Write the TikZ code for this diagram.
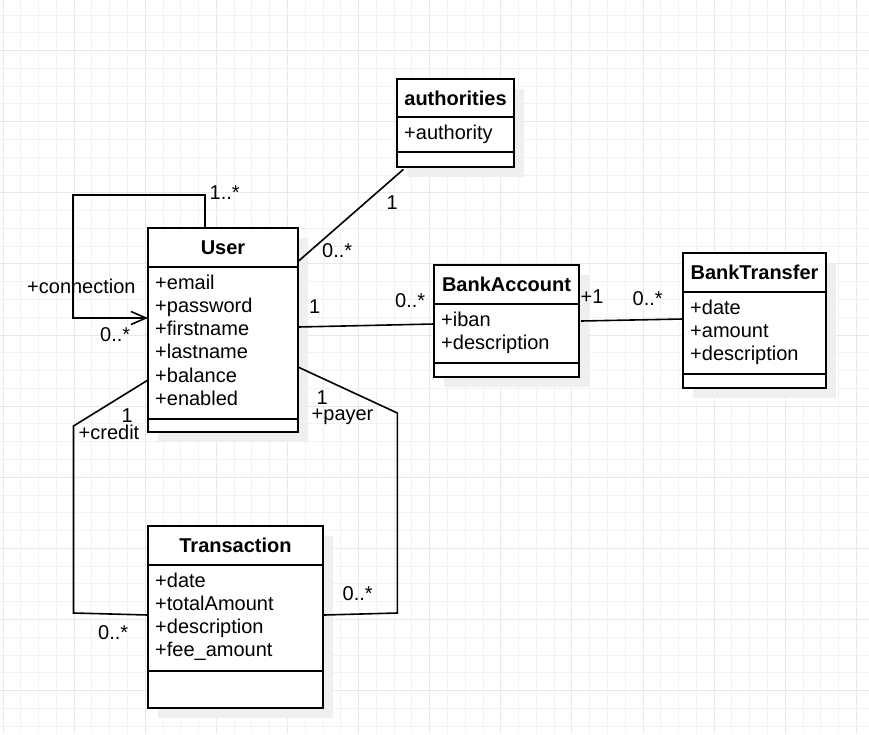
\documentclass[tikz,border=0pt]{standalone}
\usepackage{fontspec}
\setmainfont{Liberation Sans}
\usetikzlibrary{arrows.meta,calc}
\definecolor{gridminor}{HTML}{F2F2F2}
\definecolor{gridmajor}{HTML}{E8E8E8}
\definecolor{shadowc}{HTML}{EFEFEF}
\begin{document}
\begin{tikzpicture}[x=1pt,y=-1pt,
  classbox/.style={draw=black, line width=1.6pt, fill=white, rectangle, inner sep=0pt, outer sep=0pt, anchor=north west},
  ctitle/.style={font=\fontsize{20}{23}\selectfont\bfseries, anchor=base, inner sep=0pt},
  attr/.style={font=\fontsize{20}{23}\selectfont, anchor=base west, inner sep=0pt},
  lbl/.style={font=\fontsize{20}{23}\selectfont, anchor=base west, inner sep=0pt},
  assoc/.style={draw=black, line width=1.6pt},
  sepline/.style={draw=black, line width=1.6pt},
  shadowbox/.style={fill=shadowc},
  openarrow/.style={-{Straight Barb[length=15pt,width=13pt,line width=1.6pt]}},
]
\useasboundingbox (0,0) rectangle (869,734);
\fill[white] (0,0) rectangle (869,734);
% grid
\foreach \i in {0,...,48} {
  \pgfmathtruncatemacro{\m}{mod(\i,4)}
  \ifnum\m=0
    \draw[gridmajor, line width=1pt] ({3+\i*17.78},0) -- ({3+\i*17.78},734);
  \else
    \draw[gridminor, line width=1pt] ({3+\i*17.78},0) -- ({3+\i*17.78},734);
  \fi
}
\foreach \j in {0,...,40} {
  \pgfmathtruncatemacro{\m}{mod(\j,4)}
  \ifnum\m=2
    \draw[gridmajor, line width=1pt] (0,{15+\j*17.78}) -- (869,{15+\j*17.78});
  \else
    \draw[gridminor, line width=1pt] (0,{15+\j*17.78}) -- (869,{15+\j*17.78});
  \fi
}

% ---------- authorities ----------
\fill[shadowbox] (407,89) rectangle (524,177);
\node[classbox, minimum width=117pt, minimum height=88pt] (auth) at (397,79) {};
\draw[sepline] ($(auth.north west)+(0,38)$) -- ($(auth.north east)+(0,38)$);
\draw[sepline] ($(auth.north west)+(0,73)$) -- ($(auth.north east)+(0,73)$);
\node[ctitle] (authT) at (455.5,105) {authorities};
\node[attr] (authA1) at (404,139) {+authority};

% ---------- User ----------
\fill[shadowbox] (158,238) rectangle (308,442);
\node[classbox, minimum width=150pt, minimum height=204pt] (User) at (148,228) {};
\draw[sepline] ($(User.north west)+(0,39)$) -- ($(User.north east)+(0,39)$);
\draw[sepline] ($(User.north west)+(0,191)$) -- ($(User.north east)+(0,191)$);
\node[ctitle] (UserT) at (223,254.5) {User};
\node[attr] (Ua1) at (155,289) {+email};
\node[attr] (Ua2) at (155,312.3) {+password};
\node[attr] (Ua3) at (155,335.6) {+firstname};
\node[attr] (Ua4) at (155,358.9) {+lastname};
\node[attr] (Ua5) at (155,382.2) {+balance};
\node[attr] (Ua6) at (155,405.5) {+enabled};

% ---------- BankAccount ----------
\fill[shadowbox] (444,275) rectangle (589,387);
\node[classbox, minimum width=145pt, minimum height=112pt] (BA) at (434,265) {};
\draw[sepline] ($(BA.north west)+(0,39)$) -- ($(BA.north east)+(0,39)$);
\draw[sepline] ($(BA.north west)+(0,98)$) -- ($(BA.north east)+(0,98)$);
\node[ctitle] (BAT) at (506.5,291.5) {BankAccount};
\node[attr] (BAa1) at (441,326) {+iban};
\node[attr] (BAa2) at (441,349.3) {+description};

% ---------- BankTransfer ----------
\fill[shadowbox] (693,263) rectangle (836,398);
\node[classbox, minimum width=143pt, minimum height=135pt] (BT) at (683,253) {};
\draw[sepline] ($(BT.north west)+(0,39)$) -- ($(BT.north east)+(0,39)$);
\draw[sepline] ($(BT.north west)+(0,121)$) -- ($(BT.north east)+(0,121)$);
\node[ctitle] (BTT) at (754.5,279.5) {BankTransfer};
\node[attr] (BTa1) at (690,314) {+date};
\node[attr] (BTa2) at (690,337.3) {+amount};
\node[attr] (BTa3) at (690,360.6) {+description};

% ---------- Transaction ----------
\fill[shadowbox] (158,536) rectangle (333,718);
\node[classbox, minimum width=175pt, minimum height=182pt] (Tr) at (148,526) {};
\draw[sepline] ($(Tr.north west)+(0,39)$) -- ($(Tr.north east)+(0,39)$);
\draw[sepline] ($(Tr.north west)+(0,145)$) -- ($(Tr.north east)+(0,145)$);
\node[ctitle] (TrT) at (235.5,552.5) {Transaction};
\node[attr] (Tra1) at (155,587) {+date};
\node[attr] (Tra2) at (155,610.3) {+totalAmount};
\node[attr] (Tra3) at (155,633.6) {+description};
\node[attr] (Tra4) at (155,656.9) {+fee\_amount};

% ---------- connectors ----------
% self association (connection)
\coordinate (loopTop) at (73,195);
\draw[assoc, openarrow] ($(User.north west)+(57,0)$) |- (loopTop) |- ($(User.north west)+(0,90)$);
\node[lbl] (lLoop1) at (209.5,199.3) {1..*};
\node[lbl] (lLoop2) at (27,293.3) {+connection};
\node[lbl] (lLoop3) at (100,341.5) {0..*};

% User - authorities
\draw[assoc] ($(User.north east)+(0,33.5)$) -- ($(auth.south west)+(6.5,2.3)$);
\node[lbl] (lAu1) at (386.5,209.3) {1};
\node[lbl] (lAu2) at (322,257.7) {0..*};

% User - BankAccount
\draw[assoc] ($(User.north east)+(0,99)$) -- ($(BA.north west)+(0,59)$);
\node[lbl] (lBA1) at (309,313.3) {1};
\node[lbl] (lBA2) at (395,307.3) {0..*};

% BankAccount - BankTransfer
\draw[assoc] ($(BA.north east)+(2,56)$) -- ($(BT.north west)+(0,66)$);
\node[lbl] (lBT1) at (580.5,303.3) {+1};
\node[lbl] (lBT2) at (632.5,305) {0..*};

% User - Transaction (credit)
\coordinate (crA) at (73.5,426);
\coordinate (crB) at (73.5,613);
\draw[assoc] ($(User.north west)+(0,152)$) -- (crA) -- (crB) -- ($(Tr.north west)+(0,89)$);
\node[lbl] (lCr1) at (121.5,422) {1};
\node[lbl] (lCr2) at (78.5,439) {+credit};
\node[lbl] (lCr3) at (98,639) {0..*};

% User - Transaction (payer)
\coordinate (paA) at (397.3,413);
\coordinate (paB) at (397.3,613);
\draw[assoc] ($(User.north east)+(0,139)$) -- (paA) -- (paB) -- ($(Tr.north east)+(1,89)$);
\node[lbl] (lPa1) at (316.5,404) {1};
\node[lbl] (lPa2) at (311.5,420.7) {+payer};
\node[lbl] (lPa3) at (342.5,600) {0..*};
\end{tikzpicture}
\end{document}
